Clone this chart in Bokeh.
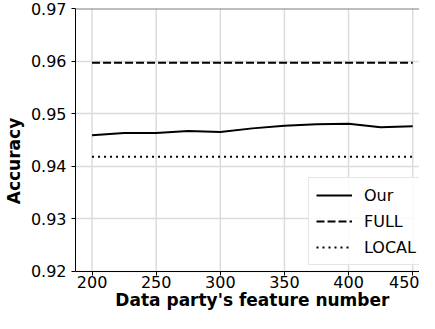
from bokeh.plotting import figure
from bokeh.models import FixedTicker, Span, Legend, LegendItem, Range1d, Label
from bokeh.embed import file_html
from bokeh.resources import INLINE

# data
feature_numbers = [200, 225, 250, 275, 300, 325, 350, 375, 400, 425, 450]
our = [0.9459, 0.9463, 0.9463, 0.9467, 0.9465, 0.9472, 0.9477, 0.9480, 0.9481, 0.9474, 0.9476]
full_acc = 0.9597
local_acc = 0.9418
full = [full_acc] * len(feature_numbers)
local = [local_acc] * len(feature_numbers)
x_ticks = [200, 250, 300, 350, 400, 450]
y_ticks = [0.92, 0.93, 0.94, 0.95, 0.96, 0.97]
x_label = "Data party's feature number"
y_label = "Accuracy"

FONT = "DejaVu Sans"
y_lo, y_hi = y_ticks[0], y_ticks[-1]

# the lower part of the y range leaves room (inside the frame) for the x tick labels and title
p = figure(width=419, height=313, output_backend="svg", toolbar_location=None,
           x_range=Range1d(187.1, 455.3), y_range=Range1d(0.91199, y_hi),
           min_border_top=8, min_border_right=0, min_border_left=0, min_border_bottom=0)
p.outline_line_color = None
p.background_fill_color = "white"

# vertical grid lines limited to the axes area
p.xgrid.visible = False
p.segment(x0=x_ticks, y0=[y_lo] * len(x_ticks), x1=x_ticks, y1=[y_hi] * len(x_ticks),
          line_color="#dcdcdc", line_width=1.5)
p.ygrid.ticker = FixedTicker(ticks=y_ticks)
p.ygrid.grid_line_color = "#dcdcdc"
p.ygrid.grid_line_width = 1.5

r_our = p.line(feature_numbers, our, line_color="black", line_width=2)
r_full = p.line(feature_numbers, full, line_color="black", line_width=2, line_dash="8 3")
r_local = p.line(feature_numbers, local, line_color="black", line_width=2, line_dash="2 4")

p.add_layout(Span(location=y_hi, dimension="width", line_color="#7f7f7f", line_width=2))

for ax in (p.xaxis, p.yaxis):
    ax.axis_line_color = "black"
    ax.axis_line_width = 1
    ax.major_tick_out = 4
    ax.major_tick_in = 0
    ax.minor_tick_line_color = None
    ax.major_tick_line_color = "black"
    ax.major_label_text_font = FONT
    ax.major_label_text_font_size = "16px"
    ax.major_label_text_color = "black"
    ax.axis_label_text_font = FONT
    ax.axis_label_text_font_size = "17px"
    ax.axis_label_text_font_style = "bold"
    ax.axis_label_text_color = "black"

p.xaxis.fixed_location = y_lo
p.xaxis.major_label_standoff = 1
p.xaxis.ticker = FixedTicker(ticks=x_ticks)

p.yaxis.bounds = (y_lo, y_hi)
p.yaxis.major_label_standoff = 5
p.yaxis.axis_label_standoff = 4
p.yaxis.axis_label = y_label
p.yaxis.ticker = FixedTicker(ticks=y_ticks)

# x axis title under the tick labels
p.add_layout(Label(x=(x_ticks[0] + x_ticks[-1]) / 2, y=14, x_units="data", y_units="screen",
                   text=x_label, text_font=FONT, text_font_size="17px",
                   text_font_style="bold", text_color="black",
                   text_align="center", text_baseline="alphabetic"))

legend = Legend(items=[
    LegendItem(label="Our", renderers=[r_our]),
    LegendItem(label="FULL", renderers=[r_full]),
    LegendItem(label="LOCAL", renderers=[r_local]),
], location=(233, 48))
legend.label_text_font = FONT
legend.label_text_font_size = "16px"
legend.label_text_color = "black"
legend.glyph_width = 36
legend.glyph_height = 20
legend.label_height = 20
legend.label_standoff = 12
legend.spacing = 6
legend.padding = 7
legend.margin = 0
legend.border_line_color = "#cccccc"
legend.border_line_width = 1
legend.background_fill_alpha = 0.85
p.add_layout(legend)

open("out.html", "w").write(file_html(p, INLINE))
